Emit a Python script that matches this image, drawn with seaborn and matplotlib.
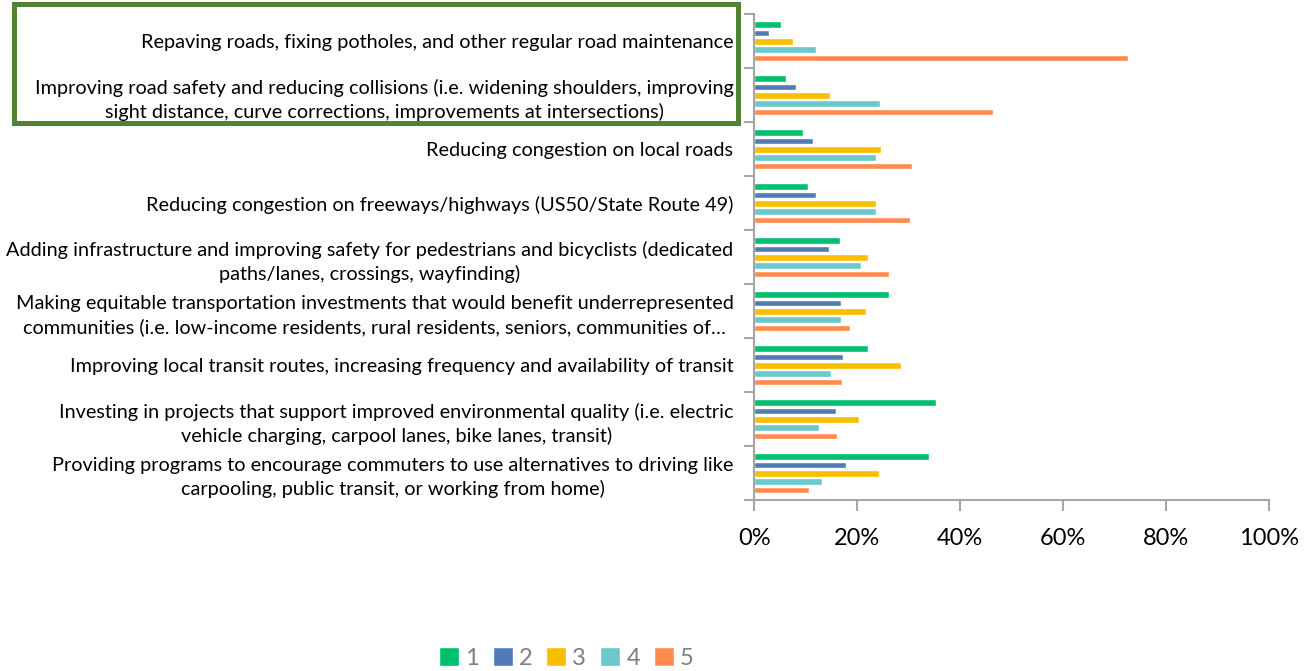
import numpy as np
import pandas as pd
import matplotlib
matplotlib.use("Agg")
import matplotlib.pyplot as plt
from matplotlib.patches import Rectangle
import seaborn as sns

categories = [
    "Repaving roads, fixing potholes, and other regular road maintenance",
    "Improving road safety and reducing collisions (i.e. widening shoulders, improving\nsight distance, curve corrections, improvements at intersections)",
    "Reducing congestion on local roads",
    "Reducing congestion on freeways/highways (US50/State Route 49)",
    "Adding infrastructure and improving safety for pedestrians and bicyclists (dedicated\npaths/lanes, crossings, wayfinding)",
    "Making equitable transportation investments that would benefit underrepresented\ncommunities (i.e. low-income residents, rural residents, seniors, communities of…",
    "Improving local transit routes, increasing frequency and availability of transit",
    "Investing in projects that support improved environmental quality (i.e. electric\nvehicle charging, carpool lanes, bike lanes, transit)",
    "Providing programs to encourage commuters to use alternatives to driving like\ncarpooling, public transit, or working from home)",
]
ratings = ["1", "2", "3", "4", "5"]
r1 = [0.052, 0.062, 0.095, 0.105, 0.166, 0.261, 0.221, 0.352, 0.340]
r2 = [0.028, 0.082, 0.115, 0.119, 0.146, 0.168, 0.173, 0.158, 0.179]
r3 = [0.075, 0.148, 0.247, 0.236, 0.220, 0.217, 0.285, 0.204, 0.242]
r4 = [0.119, 0.244, 0.236, 0.236, 0.207, 0.169, 0.150, 0.125, 0.131]
r5 = [0.725, 0.463, 0.307, 0.302, 0.261, 0.185, 0.170, 0.160, 0.107]
colors = ["#00BF6F", "#507CB6", "#F9BE00", "#6BC8CD", "#FF8B4F"]

rows = []
for rating, vals in zip(ratings, [r1, r2, r3, r4, r5]):
    for cat, v in zip(categories, vals):
        rows.append({"category": cat, "rating": rating, "value": v})
df = pd.DataFrame(rows)

sns.set_theme(style="white")
plt.rcParams["font.family"] = ["Lato", "DejaVu Sans"]

fig = plt.figure(figsize=(13.14, 6.71), dpi=100)
ax = fig.add_axes([0.574, 0.2544, 0.392, 0.7243])

sns.barplot(data=df, y="category", x="value", hue="rating",
            order=categories, hue_order=ratings,
            palette=dict(zip(ratings, colors)), orient="h", saturation=1,
            width=0.78, gap=0.22, ax=ax, legend=True, errorbar=None)

ax.set_xlim(0, 1)
ax.set_ylim(len(categories) - 0.5, -0.5)
ax.set_xticks(np.arange(0, 1.01, 0.2))
ax.set_xticklabels([f"{int(round(t*100))}%" for t in np.arange(0, 1.01, 0.2)],
                   fontsize=17, color="#000000")
ax.set_xlabel("")
ax.set_ylabel("")

ax.set_yticks(np.arange(len(categories)))
ax.set_yticklabels(categories, fontsize=14.3, color="#000000", linespacing=1.4)
for t in ax.get_yticklabels():
    t.set_multialignment("center")
ax.set_yticks(np.arange(-0.5, len(categories) + 0.5, 1), minor=True)
ax.tick_params(axis="y", which="major", length=0, pad=15)
ax.tick_params(axis="y", which="minor", left=True, length=7, width=1.5,
               color="#A6A6A6", direction="out")
ax.tick_params(axis="x", which="major", bottom=True, length=8, width=1.5,
               color="#A6A6A6", direction="out", pad=12)

for s in ["top", "right"]:
    ax.spines[s].set_visible(False)
for s in ["left", "bottom"]:
    ax.spines[s].set_color("#A6A6A6")
    ax.spines[s].set_linewidth(1.5)

handles, labels = ax.get_legend_handles_labels()
ax.get_legend().remove()
leg = fig.legend(handles, labels, loc="center", bbox_to_anchor=(0.431, 0.019),
                 ncol=5, frameon=False, fontsize=17, handlelength=0.85,
                 handleheight=0.85, handletextpad=0.25, columnspacing=0.6,
                 labelcolor="#7F7F7F")

fig.add_artist(Rectangle((0.011, 0.8174), 0.5503, 0.1759, transform=fig.transFigure,
                         fill=False, edgecolor="#548235", linewidth=3.6))

fig.savefig("out.png", dpi=100)
